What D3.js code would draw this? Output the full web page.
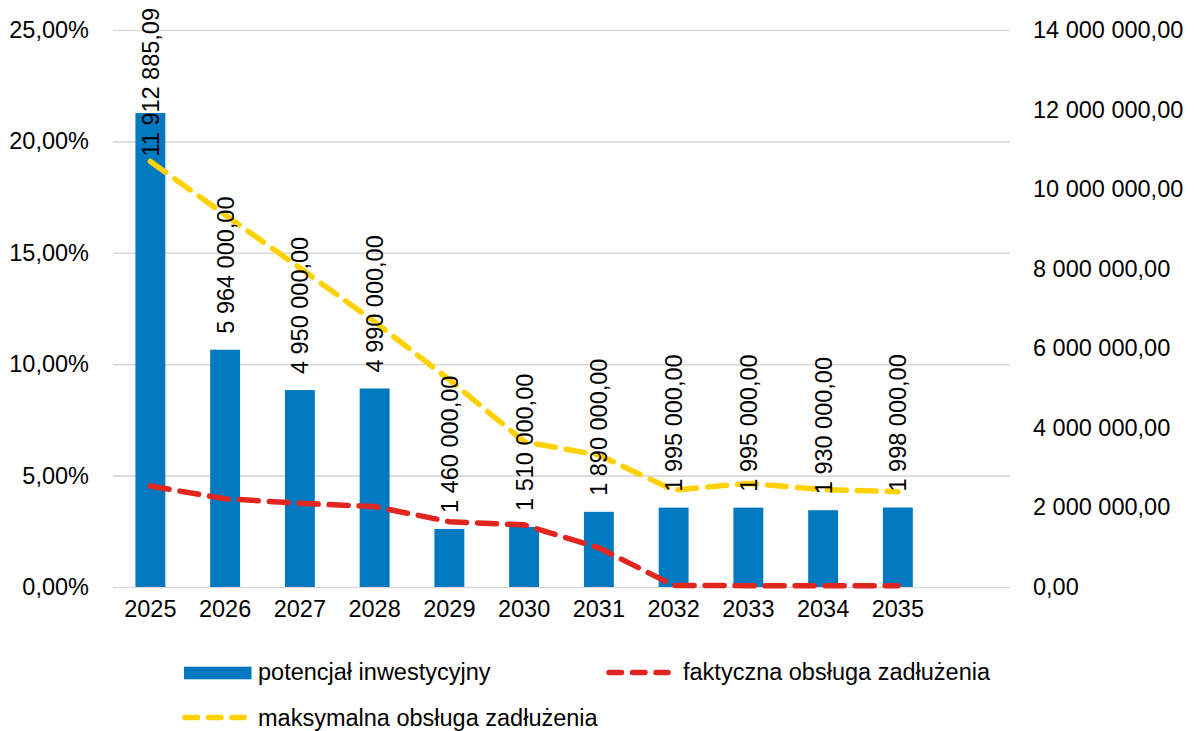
<!DOCTYPE html>
<html lang="pl">
<head>
<meta charset="utf-8">
<script src="https://cdn.jsdelivr.net/npm/d3@7"></script>
<style>
  html, body { margin: 0; padding: 0; background: #fff; }
  svg { display: block; font-family: "Liberation Sans", Arial, sans-serif; }
</style>
</head>
<body>
<svg id="chart" width="1194" height="731"></svg>
<script>
// Lata prognozy
const years = ["2025", "2026", "2027", "2028", "2029", "2030", "2031", "2032", "2033", "2034", "2035"];
// Potencjał inwestycyjny (zł, prawa oś)
const potencjal = [11912885.09, 5964000, 4950000, 4990000, 1460000, 1510000, 1890000, 1995000, 1995000, 1930000, 1998000];
// Faktyczna obsługa zadłużenia (udział, lewa oś)
const faktyczna = [0.0453, 0.0396, 0.0376, 0.0361, 0.0293, 0.0279, 0.0176, 0.0007, 0.0006, 0.0006, 0.0006];
// Maksymalna obsługa zadłużenia (udział, lewa oś)
const maksymalna = [0.1910, 0.1670, 0.1432, 0.1190, 0.0930, 0.0652, 0.0592, 0.0435, 0.0465, 0.0437, 0.0428];
// Podziałki osi
const leftTicks = [0, 0.05, 0.10, 0.15, 0.20, 0.25];
const rightTicks = [0, 2000000, 4000000, 6000000, 8000000, 10000000, 12000000, 14000000];

const legendItems = [
  { name: "potencjał inwestycyjny", type: "bar" },
  { name: "faktyczna obsługa zadłużenia", type: "line", color: "#e0261e" },
  { name: "maksymalna obsługa zadłużenia", type: "line", color: "#ffd100" }
];

const pl = d3.formatLocale({ decimal: ",", thousands: "\u00a0", grouping: [3], currency: ["", " zł"] });
const fmtMoney = pl.format(",.2f");
const fmtPct = pl.format(".2%");

const BLUE = "#0079c1", RED = "#e0261e", YELLOW = "#ffd100";
const FS = 23.5;

const svg = d3.select("#chart");
const plot = { left: 113, right: 1010, top: 30, bottom: 587 };
const step = (plot.right - plot.left) / 12;

const x = d3.scaleBand()
  .domain(years)
  .range([plot.left, plot.left + step * years.length])
  .paddingInner(0.6)
  .paddingOuter(0.3);
const yL = d3.scaleLinear().domain([0, 0.25]).range([plot.bottom, plot.top]);
const yR = d3.scaleLinear().domain([0, 14000000]).range([plot.bottom, plot.top]);
const cx = d => x(d) + x.bandwidth() / 2;

// Linie siatki
svg.append("g")
  .attr("transform", `translate(${plot.left},0)`)
  .call(d3.axisLeft(yL).tickValues(leftTicks).tickSize(-(plot.right - plot.left)).tickFormat(""))
  .call(g => g.select(".domain").remove())
  .call(g => g.selectAll("line").attr("stroke", "#d9d9d9").attr("stroke-width", 1.6));

// Lewa oś (procenty)
svg.append("g")
  .attr("transform", `translate(89,0)`)
  .call(d3.axisLeft(yL).tickValues(leftTicks).tickSize(0).tickPadding(0).tickFormat(fmtPct))
  .call(g => g.select(".domain").remove())
  .call(g => g.selectAll("text").attr("font-size", FS).attr("font-family", "Liberation Sans, Arial, sans-serif").attr("fill", "#000"));

// Prawa oś (kwoty)
svg.append("g")
  .attr("transform", `translate(1033,0)`)
  .call(d3.axisRight(yR).tickValues(rightTicks).tickSize(0).tickPadding(0).tickFormat(fmtMoney))
  .call(g => g.select(".domain").remove())
  .call(g => g.selectAll("text").attr("font-size", FS).attr("font-family", "Liberation Sans, Arial, sans-serif").attr("fill", "#000"));

// Oś lat
svg.append("g")
  .attr("transform", `translate(0,${plot.bottom + 13})`)
  .call(d3.axisBottom(x).tickSize(0).tickPadding(0))
  .call(g => g.select(".domain").remove())
  .call(g => g.selectAll("text").attr("font-size", FS).attr("font-family", "Liberation Sans, Arial, sans-serif").attr("fill", "#000").attr("dy", "0.71em"));

// Słupki
svg.append("g").selectAll("rect")
  .data(years)
  .join("rect")
  .attr("x", d => x(d))
  .attr("width", x.bandwidth())
  .attr("y", (d, i) => yR(potencjal[i]))
  .attr("height", (d, i) => plot.bottom - yR(potencjal[i]))
  .attr("fill", BLUE);

// Linie przerywane
const line = d3.line().x(d => cx(d.year)).y(d => yL(d.v));
function drawLine(values, color) {
  svg.append("path")
    .datum(years.map((year, i) => ({ year, v: values[i] })))
    .attr("d", line)
    .attr("fill", "none")
    .attr("stroke", color)
    .attr("stroke-width", 5.5)
    .attr("stroke-linecap", "round")
    .attr("stroke-linejoin", "round")
    .attr("stroke-dasharray", "19 11");
}
drawLine(faktyczna, RED);
drawLine(maksymalna, YELLOW);

// Etykiety wartości słupków (pionowe)
const labels = svg.append("g").selectAll("text")
  .data(years)
  .join("text")
  .attr("font-size", FS)
  .attr("fill", "#000")
  .text((d, i) => fmtMoney(potencjal[i]));
labels.each(function (d, i) {
  const len = this.getComputedTextLength();
  let start = yR(potencjal[i]) - 16;
  if (start - len < 8) start = 8 + len;
  d3.select(this).attr("transform", `translate(${cx(d) + 8.4},${start}) rotate(-90)`);
});

// Legenda
const lg = svg.append("g");
lg.append("rect").attr("x", 184).attr("y", 666.7).attr("width", 67.5).attr("height", 12.6).attr("fill", BLUE);
lg.append("text").attr("x", 258).attr("y", 680).attr("font-size", FS).text(legendItems[0].name);

lg.append("line").attr("x1", 609).attr("x2", 668).attr("y1", 672.5).attr("y2", 672.5)
  .attr("stroke", legendItems[1].color).attr("stroke-width", 5.5).attr("stroke-linecap", "round").attr("stroke-dasharray", "12.5 11");
lg.append("text").attr("x", 683).attr("y", 680).attr("font-size", FS).text(legendItems[1].name);

lg.append("line").attr("x1", 185).attr("x2", 244).attr("y1", 717.5).attr("y2", 717.5)
  .attr("stroke", legendItems[2].color).attr("stroke-width", 5.5).attr("stroke-linecap", "round").attr("stroke-dasharray", "12.5 11");
lg.append("text").attr("x", 258).attr("y", 725.5).attr("font-size", FS).text(legendItems[2].name);
</script>
</body>
</html>
